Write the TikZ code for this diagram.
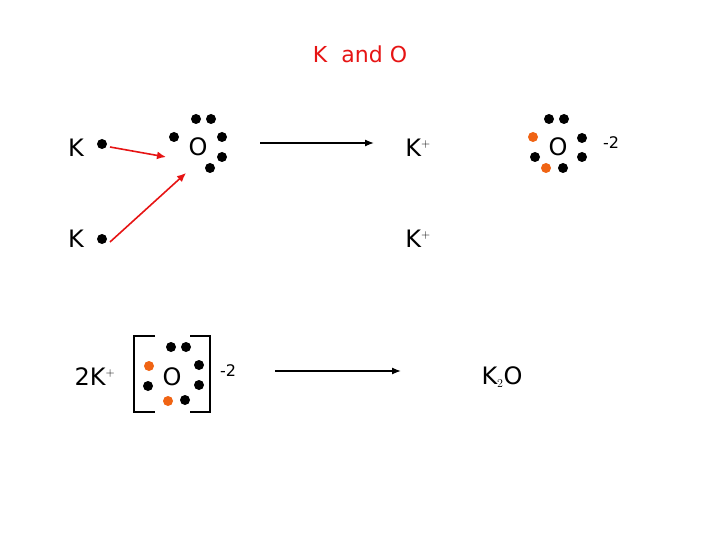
\documentclass[tikz,border=0pt]{standalone}
\usepackage{fontspec}
\setmainfont{DejaVu Sans}
\definecolor{dorange}{RGB}{240,100,20}
\definecolor{dred}{RGB}{230,20,20}
\begin{document}
\begin{tikzpicture}[x=1pt,y=-1pt,
  lbl/.style={inner sep=0pt,font=\fontsize{24}{28}\selectfont},
  sup/.style={inner sep=0pt,font=\fontsize{16}{18}\selectfont},
  bd/.style={fill=black},
  od/.style={fill=dorange},
  rarr/.style={dred,line width=1.6pt,-{Latex[length=9pt,width=8pt]}},
  barr/.style={black,line width=1.3pt,-{Latex[length=9pt,width=7pt]}}]
\useasboundingbox (0,0) rectangle (720,540);
\usetikzlibrary{arrows.meta}
\node[lbl,text=dred,font=\fontsize{22}{26}\selectfont] (t) at (360,54) {K\ \ and O};
% row 1
\node[lbl] (k1) at (76,148) {K};
\fill[bd] (102,144) circle (5);
\coordinate (k1d) at (110,147);
\node[lbl] (o1) at (198,147) {O};
\foreach \p in {(196,119),(211,119),(174,137),(222,137),(222,157),(210,168)} \fill[bd] \p circle (5);
\coordinate (o1a) at (166,157);
\coordinate (o1b) at (186,173);
\node[lbl] (k2) at (76,239) {K};
\fill[bd] (102,239) circle (5);
\coordinate (k2d) at (110,242);
\draw[rarr] (k1d) -- (o1a);
\draw[rarr] (k2d) -- (o1b);
\coordinate (a1s) at (260,143); \coordinate (a1e) at (374,143);
\draw[barr] (a1s) -- (a1e);
\node[lbl] (kp1) at (418,148) {K$^{\scriptscriptstyle +}$};
\node[lbl] (kp2) at (418,239) {K$^{\scriptscriptstyle +}$};
\node[lbl] (o2) at (558,147) {O};
\foreach \p in {(549,119),(564,119),(535,157),(582,138),(582,157),(563,168)} \fill[bd] \p circle (5);
\foreach \p in {(533,137),(546,168)} \fill[od] \p circle (5);
\node[sup] (m2a) at (611,143) {-2};
% row 3
\node[lbl] (kk) at (95,377) {2K$^{\scriptscriptstyle +}$};
\draw[line width=1.3pt] (155,336) -- (134,336) -- (134,412) -- (155,412);
\draw[line width=1.3pt] (190,336) -- (210,336) -- (210,412) -- (190,412);
\node[lbl] (o3) at (172,377) {O};
\foreach \p in {(171,347),(186,347),(148,386),(199,365),(199,385),(185,400)} \fill[bd] \p circle (5);
\foreach \p in {(149,366),(168,401)} \fill[od] \p circle (5);
\node[sup] (m2b) at (228,371) {-2};
\coordinate (a2s) at (275,371); \coordinate (a2e) at (401,371);
\draw[barr] (a2s) -- (a2e);
\node[lbl] (k2o) at (502,377) {K$_{\scriptscriptstyle 2}$O};
\end{tikzpicture}
\end{document}
